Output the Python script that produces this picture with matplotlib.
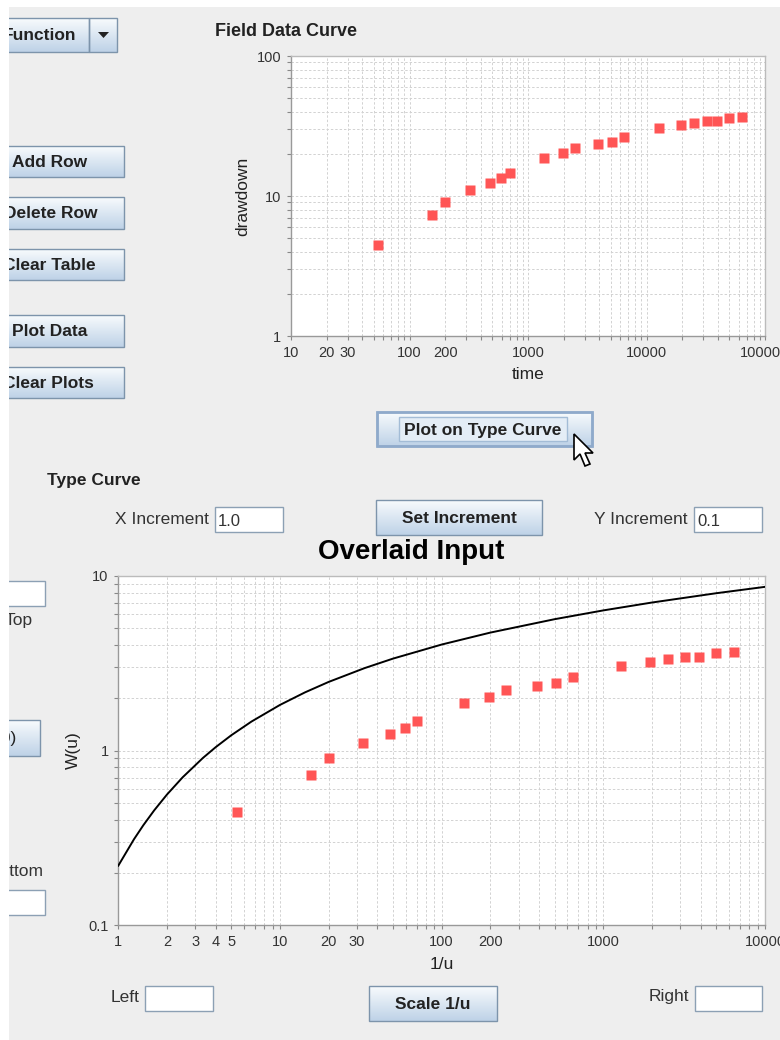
import numpy as np
import matplotlib
matplotlib.use('Agg')
import matplotlib.pyplot as plt
from matplotlib.colors import LinearSegmentedColormap
from matplotlib.patches import Rectangle, Polygon
from matplotlib.ticker import FixedLocator, LogLocator, NullFormatter

# field data
time = [54, 156, 200, 326, 478, 595, 700, 1370, 1960, 2510,
        3900, 5120, 6500, 12800, 19400, 25300, 32200, 39100, 50000, 64000]
drawdown = [4.47, 7.28, 9.06, 11.0, 12.4, 13.4, 14.7, 18.7, 20.2, 22.1,
            23.4, 24.4, 26.3, 30.5, 32.0, 33.4, 34.3, 34.3, 36.3, 36.8]

# match-point shift used to lay the field data on the type curve
x_shift = 10.0
y_shift = 10.0

# Theis well function table, 1/u against W(u)
inv_u = [1, 1.25, 1.4286, 1.6667, 2, 2.5, 3.3333, 4, 5, 6.6667, 10, 14.286,
         20, 33.333, 50, 100, 200, 500, 1000, 2000, 5000, 10000]
w_u = [0.2194, 0.3106, 0.3738, 0.4544, 0.5598, 0.7024, 0.9057, 1.0443, 1.2227,
       1.4645, 1.8229, 2.1508, 2.4679, 2.9591, 3.3547, 4.0379, 4.7261, 5.6394,
       6.3315, 7.0242, 7.9402, 8.6332]

top_xticks = [10, 20, 30, 100, 200, 1000, 10000, 100000]
top_yticks = [1, 10, 100]
bot_xticks = [1, 2, 3, 4, 5, 10, 20, 30, 100, 200, 1000, 10000]
bot_yticks = [0.1, 1, 10]

W, H = 780, 1040
BG = '#EEEEEE'
RED = '#FF5555'
FONT = 'Liberation Sans'
plt.rcParams['font.family'] = [FONT, 'DejaVu Sans']

fig = plt.figure(figsize=(W / 100, H / 100), dpi=100, facecolor=BG)
bg = fig.add_axes([0, 0, 1, 1], zorder=0)
bg.set_axis_off()

btn_cmap = LinearSegmentedColormap.from_list('btn', ['#F8FBFD', '#BED2E7'])
grad = np.linspace(0, 1, 64).reshape(-1, 1)


def px_rect(x0, y0, x1, y1):
    return [x0 / W, 1 - y1 / H, (x1 - x0) / W, (y1 - y0) / H]


def button(x0, y0, x1, y1, label=None, cx=None, size=12.5, weight='bold', ha='center'):
    bg.imshow(grad, extent=(x0, x1, y1, y0), cmap=btn_cmap, aspect='auto',
              interpolation='bilinear', zorder=2)
    bg.add_patch(Rectangle((x0, y0), x1 - x0, y1 - y0, fill=False,
                           ec='#7D94AB', lw=1, zorder=3))
    if label:
        if cx is None:
            cx = (x0 + x1) / 2
        bg.text(cx, (y0 + y1) / 2 + 1, label, ha=ha, va='center', fontsize=size,
                fontweight=weight, color='#222222', zorder=4)


def textbox(x0, y0, x1, y1, value=''):
    bg.add_patch(Rectangle((x0, y0), x1 - x0, y1 - y0, fc='white',
                           ec='#8CA0B4', lw=1, zorder=3))
    if value:
        bg.text(x0 + 3, (y0 + y1) / 2 + 2, value, ha='left', va='center',
                fontsize=12, color='#333333', zorder=4)


def label(x, y, s, size=12.5, weight='normal', ha='left', color='#333333'):
    bg.text(x, y, s, ha=ha, va='center', fontsize=size, fontweight=weight,
            color=color, zorder=4)


# left column of controls
button(-30, 18, 89, 52, 'Function', cx=40)
button(89, 18, 117, 52)
bg.add_patch(Polygon([(98, 32), (109, 32), (103.5, 38)], closed=True,
                     fc='#222222', ec='none', zorder=5))
button(-30, 146, 124, 177, 'Add Row', cx=50)
button(-30, 197, 124, 229, 'Delete Row', cx=51)
button(-30, 249, 124, 280, 'Clear Table', cx=49)
button(-30, 315, 124, 347, 'Plot Data', cx=50)
button(-30, 367, 124, 398, 'Clear Plots', cx=48)

label(215, 31, 'Field Data Curve', size=13, weight='bold', color='#222222')

# plot-on-type-curve button with focus ring and pointer
button(377, 412, 592, 446, None)
bg.add_patch(Rectangle((377, 412), 215, 34, fill=False, ec='#8FAACB', lw=2, zorder=3))
bg.add_patch(Rectangle((399, 417), 168, 24, fc='#E4EDF6', ec='#A3BCD6', lw=1, zorder=3))
bg.text(483, 430, 'Plot on Type Curve', ha='center', va='center', fontsize=12.5,
        fontweight='bold', color='#222222', zorder=4)
tip = np.array([574, 434])
cursor = np.array([(0, 0), (0, 26), (6, 20), (11, 32), (16, 30), (11, 19), (19, 19)]) + tip
bg.add_patch(Polygon(cursor, closed=True, fc='white', ec='black', lw=1.2, zorder=6))

label(47, 481, 'Type Curve', weight='bold', color='#222222')
label(209, 519, 'X Increment', ha='right')
textbox(215, 507, 283, 532, '1.0')
button(376, 500, 542, 535, 'Set Increment')
label(688, 519, 'Y Increment', ha='right')
textbox(694, 507, 762, 532, '0.1')

label(411, 552, 'Overlaid Input', size=20, weight='bold', ha='center', color='black')

# left side controls next to the type curve
textbox(-10, 581, 45, 606)
label(33, 621, 'Top', ha='right')
button(-30, 720, 40, 756, '(0)', cx=17, size=12.5, weight='normal', ha='right')
label(44, 872, 'Bottom', ha='right')
textbox(-10, 890, 45, 915)

label(139, 997, 'Left', ha='right')
textbox(145, 986, 213, 1011)
button(369, 986, 497, 1021, 'Scale 1/u')
label(689, 997, 'Right', ha='right')
textbox(695, 986, 762, 1011)

# white window edges
bg.add_patch(Rectangle((0, 0), 9, H, fc='white', ec='none', zorder=9))
bg.add_patch(Rectangle((0, 0), W, 7, fc='white', ec='none', zorder=9))

bg.set_xlim(0, W)
bg.set_ylim(H, 0)


def fmt(v):
    return '%g' % v


def log_panel(rect, xlim, ylim, xticks, yticks):
    ax = fig.add_axes(px_rect(*rect), zorder=1)
    ax.set_facecolor('white')
    ax.set_xscale('log')
    ax.set_yscale('log')
    ax.set_xlim(xlim)
    ax.set_ylim(ylim)
    for axis, ticks in ((ax.xaxis, xticks), (ax.yaxis, yticks)):
        axis.set_major_locator(FixedLocator(ticks))
        axis.set_minor_locator(LogLocator(base=10, subs=np.arange(2, 10), numticks=20))
        axis.set_minor_formatter(NullFormatter())
    ax.set_xticklabels([fmt(v) for v in xticks])
    ax.set_yticklabels([fmt(v) for v in yticks])
    ax.grid(True, which='both', color='#D2D2D2', lw=0.7, ls=(0, (2.5, 2)))
    ax.set_axisbelow(True)
    ax.tick_params(which='both', direction='out', length=3, width=0.8,
                   color='#888888', labelsize=10.5, labelcolor='#333333', pad=4)
    for side, sp in ax.spines.items():
        sp.set_color('#999999' if side in ('left', 'bottom') else '#BBBBBB')
        sp.set_linewidth(1)
    return ax


ax1 = log_panel((291, 56, 765, 336), (10, 100000), (1, 100), top_xticks, top_yticks)
ax1.plot(time, drawdown, ls='none', marker='s', ms=7.2, mfc=RED, mec='none', zorder=3)
ax1.set_xlabel('time', fontsize=12.5, color='#222222')
ax1.set_ylabel('drawdown', fontsize=12.5, color='#222222')
ax1.xaxis.set_label_coords(0.5, -0.139)
ax1.xaxis.label.set_va('center')
ax1.yaxis.set_label_coords(-0.101, 0.5)
ax1.yaxis.label.set_va('center')

ax2 = log_panel((118.3, 575.7, 765, 925.3), (1, 10000), (0.1, 10), bot_xticks, bot_yticks)
ax2.plot(inv_u, w_u, color='black', lw=1.4, zorder=3)
ax2.plot(np.array(time) / x_shift, np.array(drawdown) / y_shift, ls='none', marker='s',
         ms=7.2, mfc=RED, mec='none', zorder=4)
ax2.set_xlabel('1/u', fontsize=12.5, color='#222222')
ax2.set_ylabel('W(u)', fontsize=12.5, color='#222222')
ax2.xaxis.set_label_coords(0.5, -0.112)
ax2.xaxis.label.set_va('center')
ax2.yaxis.set_label_coords(-0.070, 0.5)
ax2.yaxis.label.set_va('center')

fig.savefig('out.png', dpi=100, facecolor=BG)
